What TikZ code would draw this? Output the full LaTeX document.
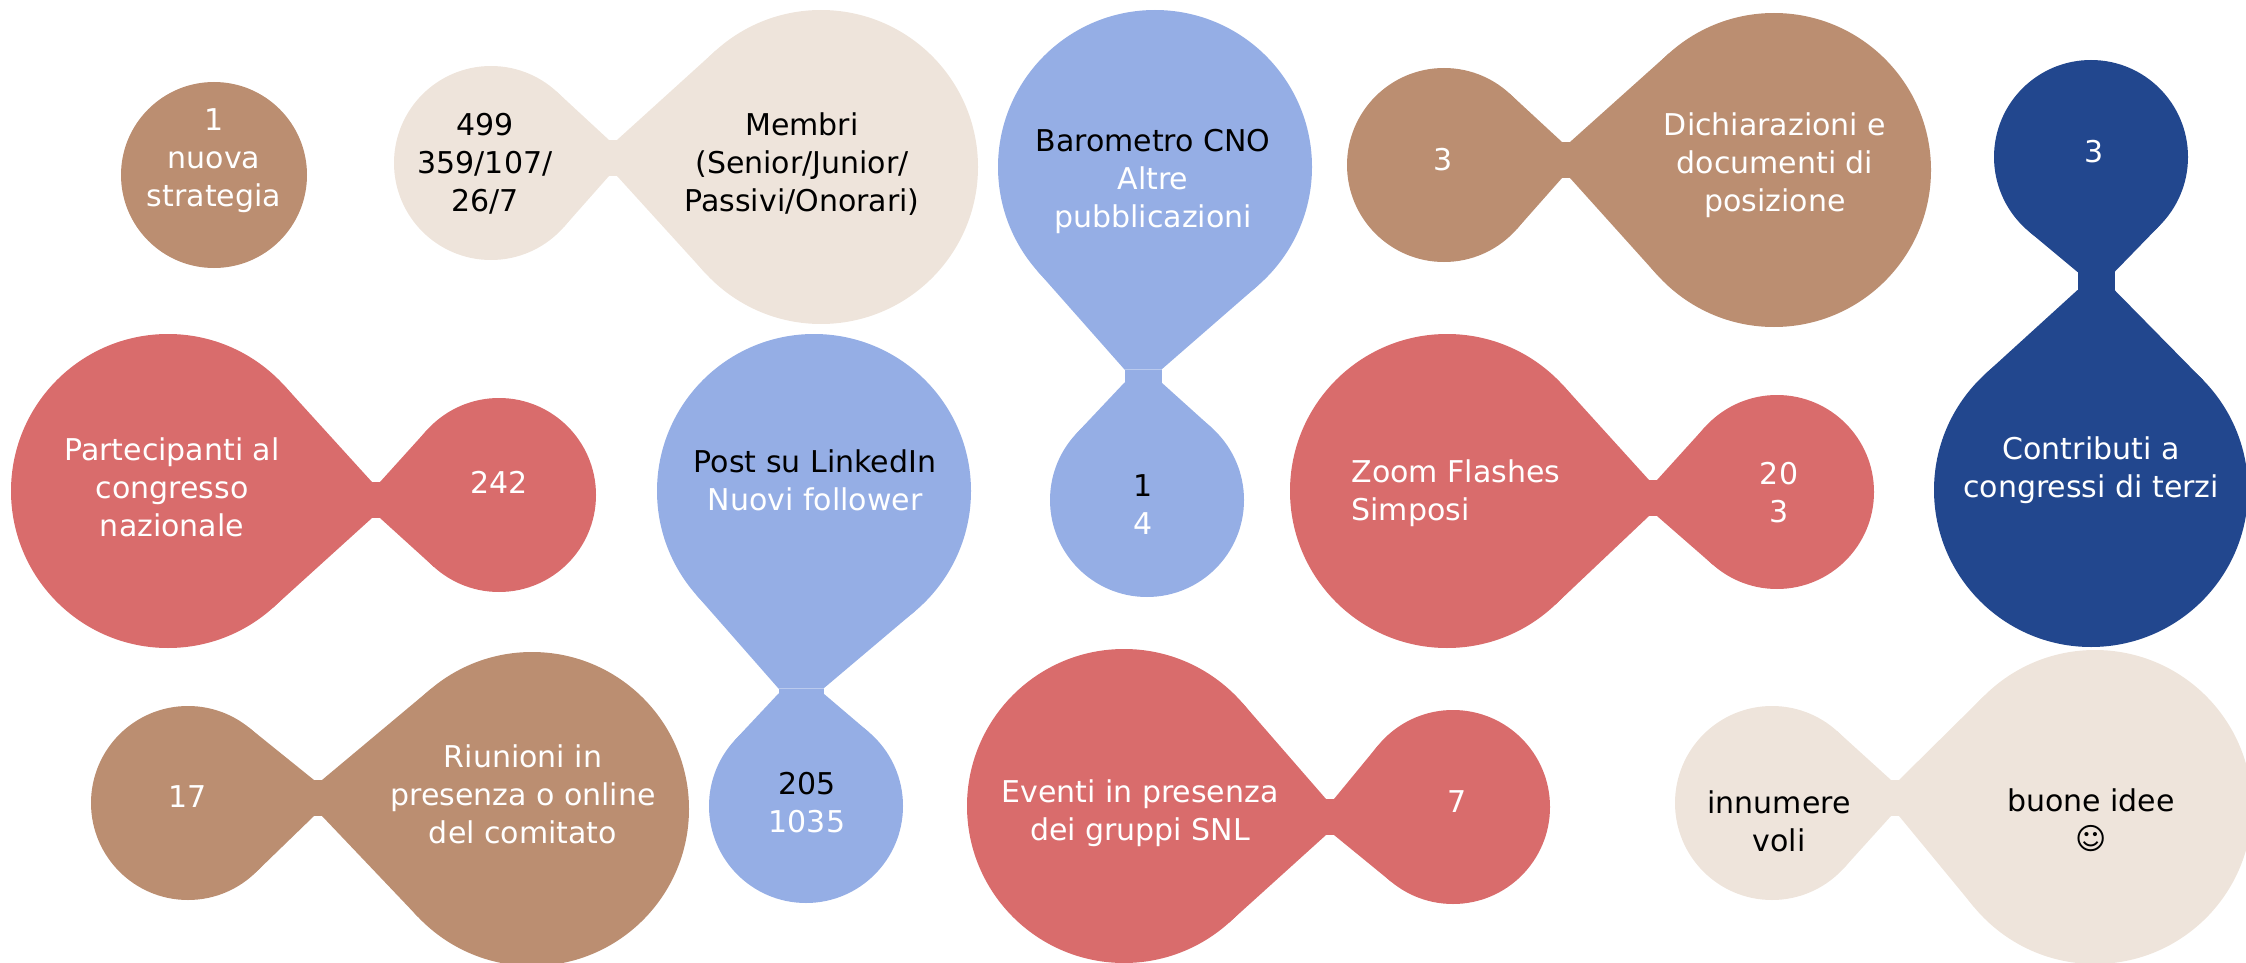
\documentclass[tikz,border=0pt]{standalone}
\usepackage{fontspec}
\setmainfont{DejaVu Sans}
\usetikzlibrary{calc}

\definecolor{clay}{HTML}{BB8E71}
\definecolor{sand}{HTML}{EEE4DB}
\definecolor{sky}{HTML}{95AEE5}
\definecolor{coral}{HTML}{D96C6C}
\definecolor{marine}{HTML}{22478E}

% fill the part between a circle node and the two ends of a neck
\newcommand{\lobe}[4]{%
  \foreach \e in {#2,#3}
    \fill[#4] (\e) -- (tangent cs:node=#1,point={(\e)},solution=1) -- (#1.center)
      -- (tangent cs:node=#1,point={(\e)},solution=2) -- cycle;
  \fill[#4] (#2) -- (#3) -- (#1.center) -- cycle;
}

\begin{document}
\begin{tikzpicture}[x=1pt, y=-1pt,
  blob/.style={circle, fill=#1, inner sep=0pt, outer sep=0pt},
  big/.style={blob=#1, minimum size=314pt},
  small/.style={blob=#1, minimum size=194pt},
  neck/.style={rectangle, fill=#1, draw=#1, line width=1pt, inner sep=0pt, minimum width=7pt, minimum height=35pt},
  vneck/.style={neck=#1, minimum width=36pt, minimum height=12pt},
  txt/.style={align=center, text=white, font=\fontsize{30}{38}\selectfont},
  dark/.style={txt, text=black}]
  \useasboundingbox (0,0) rectangle (2246,963);

  % strategia
  \node[small=clay, minimum size=186pt] (s1) at (214,175) {};
  \node[txt] (st) at (214,161) {1\\nuova\\strategia};

  % membri
  \node[small=sand] (m1) at (491,163) {};
  \node[big=sand] (m2) at (821,167) {};
  \node[neck=sand] (mk) at (613,158) {};
  \lobe{m1}{mk.north west}{mk.south west}{sand}
  \lobe{m2}{mk.north east}{mk.south east}{sand}
  \node[dark] (mt1) at (485,164) {499\\359/107/\\26/7};
  \node[dark] (mt2) at (802,164) {Membri\\(Senior/Junior/\\Passivi/Onorari)};

  % barometro
  \node[big=sky] (b1) at (1155,167) {};
  \node[small=sky] (b2) at (1147,500) {};
  \node[vneck=sky] (bk) at (1143,376) {};
  \lobe{b1}{bk.north west}{bk.north east}{sky}
  \lobe{b2}{bk.south west}{bk.south east}{sky}
  \node[txt] (bt1) at (1153,181) {\textcolor{black}{Barometro CNO}\\Altre\\pubblicazioni};
  \node[txt] (bt2) at (1143,505) {\textcolor{black}{1}\\4};

  % dichiarazioni
  \node[small=clay] (d1) at (1444,165) {};
  \node[big=clay] (d2) at (1774,170) {};
  \node[neck=clay] (dk) at (1566,160) {};
  \lobe{d1}{dk.north west}{dk.south west}{clay}
  \lobe{d2}{dk.north east}{dk.south east}{clay}
  \node[txt] (dt1) at (1443,160) {3};
  \node[txt] (dt2) at (1775,165) {Dichiarazioni e\\documenti di\\posizione};

  % contributi
  \node[small=marine] (c1) at (2091,157) {};
  \node[big=marine] (c2) at (2091,490) {};
  \node[vneck=marine, minimum height=17pt] (ck) at (2096,281) {};
  \lobe{c1}{ck.north west}{ck.north east}{marine}
  \lobe{c2}{ck.south west}{ck.south east}{marine}
  \node[txt] (ct1) at (2094,152) {3};
  \node[txt] (ct2) at (2091,470) {Contributi a\\congressi di terzi};

  % partecipanti
  \node[big=coral] (p1) at (168,491) {};
  \node[small=coral] (p2) at (499,495) {};
  \node[neck=coral] (pk) at (376,500) {};
  \lobe{p1}{pk.north west}{pk.south west}{coral}
  \lobe{p2}{pk.north east}{pk.south east}{coral}
  \node[txt] (pt1) at (172,487) {Partecipanti al\\congresso\\nazionale};
  \node[txt] (pt2) at (499,482) {242};

  % linkedin
  \node[big=sky] (l1) at (814,491) {};
  \node[small=sky] (l2) at (806,806) {};
  \node[vneck=sky, minimum width=44pt, minimum height=4pt] (lk) at (801,691) {};
  \lobe{l1}{lk.north west}{lk.north east}{sky}
  \lobe{l2}{lk.south west}{lk.south east}{sky}
  \node[txt] (lt1) at (815,480) {\textcolor{black}{Post su LinkedIn}\\Nuovi follower};
  \node[txt] (lt2) at (807,803) {\textcolor{black}{205}\\1035};

  % zoom flashes
  \node[big=coral] (z1) at (1447,491) {};
  \node[small=coral] (z2) at (1777,492) {};
  \node[neck=coral] (zk) at (1653,498) {};
  \lobe{z1}{zk.north west}{zk.south west}{coral}
  \lobe{z2}{zk.north east}{zk.south east}{coral}
  \node[txt, align=left, anchor=west] (zt1) at (1348,493) {Zoom Flashes\\Simposi};
  \node[txt] (zt2) at (1779,493) {20\\3};

  % riunioni
  \node[small=clay] (r1) at (188,803) {};
  \node[big=clay] (r2) at (532,809) {};
  \node[neck=clay] (rk) at (318,798) {};
  \lobe{r1}{rk.north west}{rk.south west}{clay}
  \lobe{r2}{rk.north east}{rk.south east}{clay}
  \node[txt] (rt1) at (188,797) {17};
  \node[txt] (rt2) at (523,794) {Riunioni in\\presenza o online\\del comitato};

  % eventi
  \node[big=coral] (e1) at (1124,806) {};
  \node[small=coral] (e2) at (1453,807) {};
  \node[neck=coral] (ek) at (1330,817) {};
  \lobe{e1}{ek.north west}{ek.south west}{coral}
  \lobe{e2}{ek.north east}{ek.south east}{coral}
  \node[txt] (et1) at (1140,813) {Eventi in presenza\\dei gruppi SNL};
  \node[txt] (et2) at (1457,802) {7};

  % idee
  \node[small=sand] (i1) at (1772,803) {};
  \node[big=sand] (i2) at (2095,807) {};
  \node[neck=sand] (ik) at (1895,798) {};
  \lobe{i1}{ik.north west}{ik.south west}{sand}
  \lobe{i2}{ik.north east}{ik.south east}{sand}
  \node[dark] (it1) at (1779,821) {innumere\\voli};
  \node[dark] (it2) at (2091,820) {buone idee\\☺};
\end{tikzpicture}
\end{document}
